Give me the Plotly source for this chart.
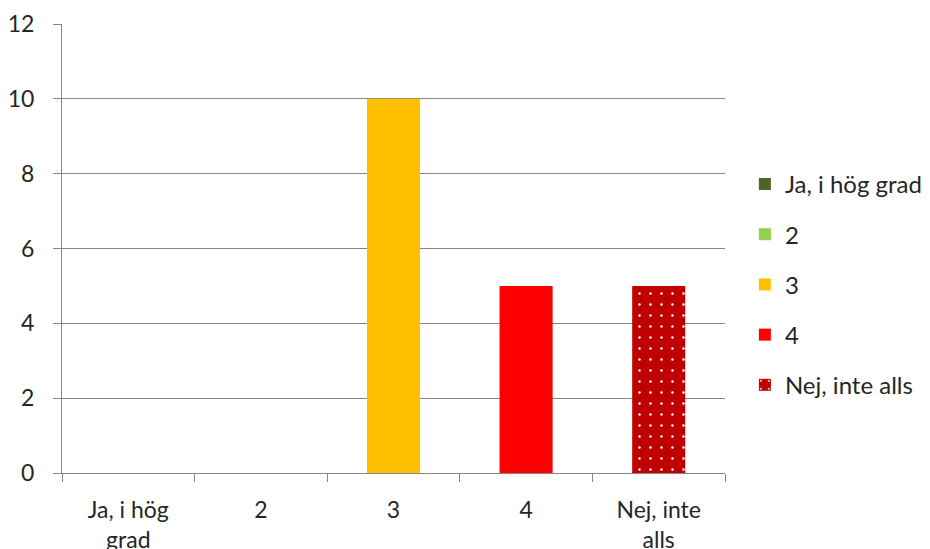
import plotly.graph_objects as go

# Survey answers on a five-step scale
categories = ["Ja, i hög grad", "2", "3", "4", "Nej, inte alls"]
tick_labels = ["Ja, i hög<br>grad", "2", "3", "4", "Nej, inte<br>alls"]
counts = [0, 0, 10, 5, 5]
colors = ["#4F6228", "#92D050", "#FFC000", "#FF0000", "#C00000"]

fig = go.Figure()
for i, (cat, val, col) in enumerate(zip(categories, counts, colors)):
    marker = dict(color=col, line=dict(width=0))
    if i == len(categories) - 1:
        marker["pattern"] = dict(shape=".", fgcolor="white", bgcolor=col,
                                 size=11, solidity=0.04, fillmode="replace")
    fig.add_trace(go.Bar(
        x=[tick_labels[i]], y=[val], name=cat, marker=marker,
        legendgroup=f"g{i}", width=0.4,
    ))

grid = "#868686"
fig.update_layout(
    width=930, height=549,
    margin=dict(l=62, r=205, t=24, b=76, autoexpand=False),
    paper_bgcolor="white", plot_bgcolor="white",
    barmode="overlay",
    font=dict(family="Lato, 'Open Sans', sans-serif", size=23, color="#262626"),
    showlegend=True,
    legend=dict(x=1.03, xanchor="left", y=0.42, yanchor="middle",
                tracegroupgap=16, font=dict(size=24),
                itemwidth=30, bgcolor="rgba(0,0,0,0)"),
    xaxis=dict(
        categoryorder="array", categoryarray=tick_labels,
        showline=True, linecolor=grid, linewidth=1,
        ticks="outside", tickson="boundaries", ticklen=8, tickcolor=grid,
        showgrid=False, range=[-0.5, 4.5], ticklabelstandoff=16,
        automargin=False,
    ),
    yaxis=dict(
        range=[0, 12], dtick=2, showgrid=True, gridcolor=grid, gridwidth=1,
        showline=True, linecolor=grid, linewidth=1,
        ticks="outside", ticklen=8, tickcolor=grid, zeroline=False,
        ticklabelstandoff=14, automargin=False,
    ),
)

fig.write_html("out.html")
